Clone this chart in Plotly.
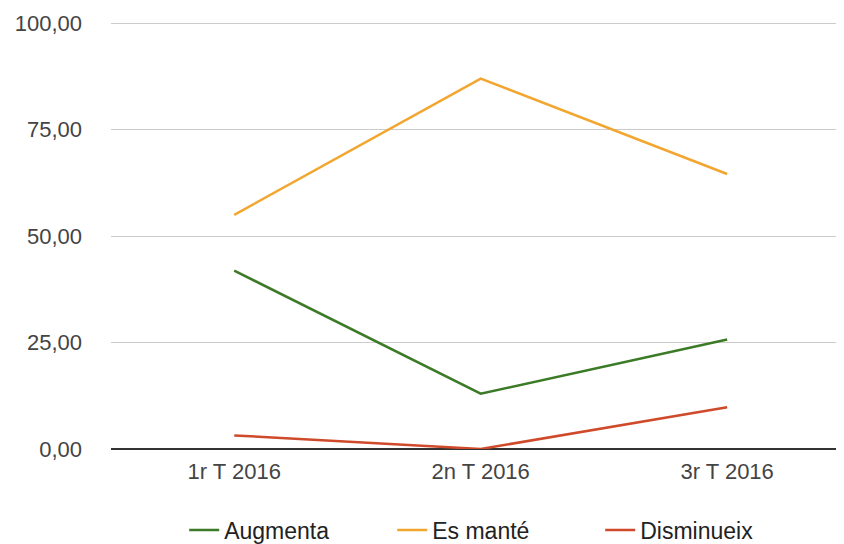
import plotly.graph_objects as go

categories = ["1r T 2016", "2n T 2016", "3r T 2016"]
augmenta = [41.9, 13.0, 25.7]
es_mante = [55.0, 87.0, 64.6]
disminueix = [3.2, 0.0, 9.8]
y_ticks = [0, 25, 50, 75, 100]

series = [
    ("Augmenta", augmenta, "#3b7a26"),
    ("Es manté", es_mante, "#f2a630"),
    ("Disminueix", disminueix, "#cf4a2b"),
]

fig = go.Figure()
for name, vals, color in series:
    fig.add_trace(go.Scatter(
        x=categories, y=vals, name=name, mode="lines",
        line=dict(color=color, width=2.5),
    ))

# page body has an 8px margin, so the figure is 836x536 and offset accordingly
fig.update_layout(
    width=836, height=536,
    margin=dict(l=103, r=1, t=14, b=95, autoexpand=False),
    paper_bgcolor="white", plot_bgcolor="white",
    separators=",.",
    font=dict(family="Liberation Sans, Arial, sans-serif", size=22, color="#444444"),
    showlegend=True,
    legend=dict(orientation="h", x=0.1, xanchor="left", y=-0.19, yanchor="middle",
                font=dict(size=23, color="#222222"), tracegroupgap=0,
                entrywidth=163, entrywidthmode="pixels"),
    xaxis=dict(type="category", range=[-0.5, 2.47], showgrid=False, showline=False,
               ticks="", zeroline=False, ticklabelstandoff=7, automargin=False,
               tickfont=dict(size=22, color="#444444")),
    yaxis=dict(range=[0, 100.3], tickvals=y_ticks, tickformat=".2f", showgrid=True,
               gridcolor="#cccccc", gridwidth=1, zeroline=True, zerolinecolor="#333333",
               zerolinewidth=1.5, showline=False, ticks="", ticklabelstandoff=28,
               automargin=False, tickfont=dict(size=22, color="#444444")),
)

fig.write_html("out.html")
